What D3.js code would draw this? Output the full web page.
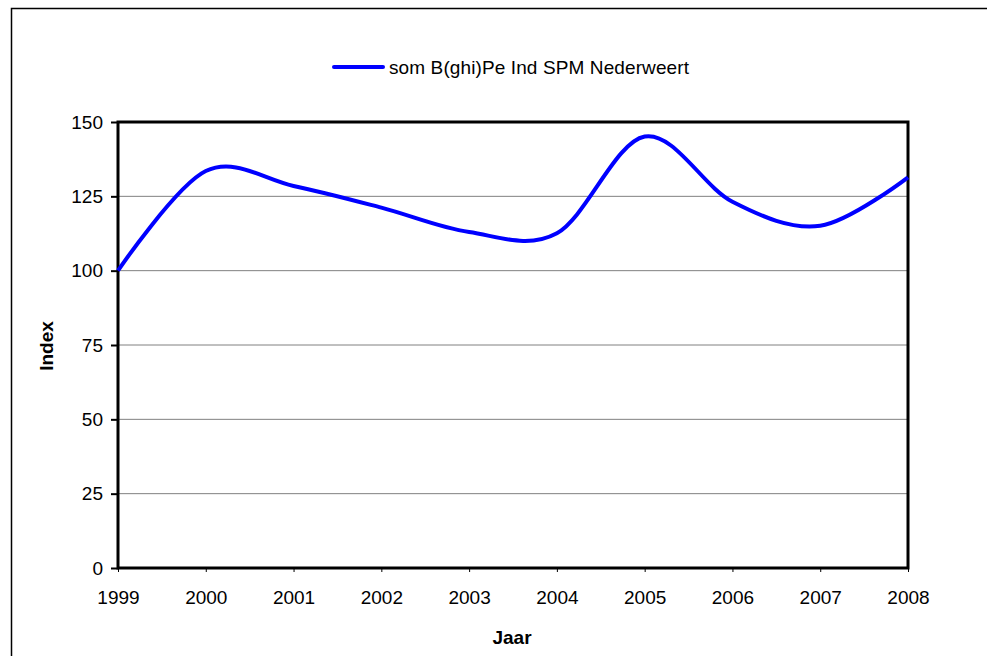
<!DOCTYPE html>
<html><head><meta charset="utf-8">
<script src="https://cdn.jsdelivr.net/npm/d3@7"></script>
<style>body{margin:0;background:#fff;}svg{display:block;font-family:"Liberation Sans",Arial,sans-serif;}</style>
</head><body>
<script>
const years = [1999,2000,2001,2002,2003,2004,2005,2006,2007,2008];
const values = [100,133.5,128.5,121.2,113.0,112.6,145.1,123.2,115.1,131.4];
const yTicks = [0,25,50,75,100,125,150];
const seriesName = "som B(ghi)Pe Ind SPM Nederweert";

const W=987,H=656;
const FONT="Liberation Sans, Arial, sans-serif";
const svg=d3.select("body").append("svg").attr("width",W).attr("height",H);
svg.append("rect").attr("width",W).attr("height",H).attr("fill","#fff");
// outer chart border
svg.append("path").attr("d",`M11.5,${H} V8.5 H${W}`).attr("fill","none").attr("stroke","#000").attr("stroke-width",1.5);

const L=118,R=908,T=122,B=568;
const x=d3.scaleLinear().domain([1999,2008]).range([L,R]);
const y=d3.scaleLinear().domain([0,150]).range([B,T]);

// gridlines
svg.append("g").selectAll("line").data(yTicks.filter(d=>d>0&&d<150)).join("line")
  .attr("x1",L).attr("x2",R).attr("y1",d=>y(d)).attr("y2",d=>y(d))
  .attr("stroke","#808080").attr("stroke-width",1);

// y axis
const ya=svg.append("g").attr("transform",`translate(${L},0)`)
  .call(d3.axisLeft(y).tickValues(yTicks).tickSize(7).tickPadding(8));
ya.select(".domain").remove();
ya.selectAll("line").attr("stroke","#000").attr("stroke-width",2);
ya.selectAll("text").attr("font-size",19).attr("fill","#000").attr("font-family",FONT);

// x axis
const xa=svg.append("g").attr("transform",`translate(0,${B})`)
  .call(d3.axisBottom(x).tickValues(years).tickFormat(d3.format("d")).tickSize(4).tickPadding(19));
xa.select(".domain").remove();
xa.selectAll("line").attr("stroke","#000").attr("stroke-width",1);
xa.selectAll("text").attr("font-size",19).attr("fill","#000").attr("font-family",FONT);

// plot border
svg.append("rect").attr("x",L).attr("y",T).attr("width",R-L).attr("height",B-T)
  .attr("fill","none").attr("stroke","#000").attr("stroke-width",3);

// line
const line=d3.line().x((d,i)=>x(years[i])).y(d=>y(d)).curve(d3.curveCardinal.tension(0));
svg.append("path").datum(values).attr("d",line).attr("fill","none")
  .attr("stroke","#0000ff").attr("stroke-width",4).attr("stroke-linejoin","round");

// axis titles
svg.append("text").attr("x",512).attr("y",644).attr("text-anchor","middle")
  .attr("font-size",19).attr("font-weight","bold").text("Jaar");
svg.append("text").attr("transform","translate(53,346) rotate(-90)").attr("text-anchor","middle")
  .attr("font-size",19).attr("font-weight","bold").text("Index");

// legend
svg.append("line").attr("x1",334).attr("x2",383).attr("y1",67).attr("y2",67)
  .attr("stroke","#0000ff").attr("stroke-width",4).attr("stroke-linecap","round");
svg.append("text").attr("x",389).attr("y",74).attr("font-size",19)
  .attr("textLength",300).attr("lengthAdjust","spacing").text(seriesName);
</script>
</body></html>
